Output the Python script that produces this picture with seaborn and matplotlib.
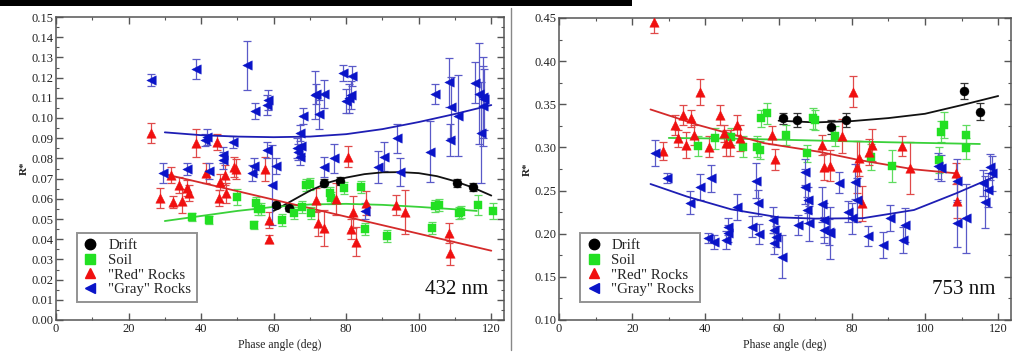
import numpy as np
import pandas as pd
import matplotlib
matplotlib.use("Agg")
import matplotlib.pyplot as plt
from matplotlib.lines import Line2D
from matplotlib.patches import Rectangle
from matplotlib.ticker import MultipleLocator, FormatStrFormatter
import seaborn as sns

# ---------------- data (phase angle in deg, R*) ----------------
# 432 nm panel
DRIFT_432_DEG = [60.7, 64.2, 74.0, 78.4, 110.5, 114.9]
DRIFT_432_R = [0.0569, 0.0553, 0.0677, 0.0690, 0.0677, 0.0657]
DRIFT_432_ERR = [0.0015, 0.0015, 0.002, 0.002, 0.002, 0.002]

SOIL_432_DEG = [37.5, 42.2, 49.9, 54.5, 55.0, 55.7, 56.6, 62.3, 65.5, 67.9, 69.0, 69.9, 70.4,
                75.4, 75.9, 79.5, 84.1, 85.1, 91.2, 103.7, 104.6, 105.5, 111.0, 111.7, 116.2, 120.6]
SOIL_432_R = [0.0508, 0.0495, 0.0607, 0.0470, 0.0581, 0.0550, 0.0550, 0.0495, 0.0528, 0.0561, 0.0668,
              0.0673, 0.0531, 0.0627, 0.0602, 0.0652, 0.0660, 0.0449, 0.0416, 0.0454, 0.0564, 0.0569,
              0.0531, 0.0536, 0.0569, 0.0541]
SOIL_432_ERR = [0.002, 0.002, 0.004, 0.002, 0.003, 0.003, 0.003, 0.003, 0.003, 0.003, 0.003, 0.003, 0.003,
                0.003, 0.003, 0.003, 0.003, 0.003, 0.003, 0.003, 0.003, 0.003, 0.003, 0.003, 0.005, 0.004]

RED_432_DEG = [26.1, 28.6, 31.8, 32.3, 33.9, 34.6, 36.0, 36.7, 38.5, 41.3, 44.4, 45.0, 45.1, 46.7, 46.9,
               49.0, 49.5, 57.6, 58.7, 58.7, 71.8, 72.2, 74.0, 77.3, 80.5, 81.4, 81.8, 82.6, 85.5,
               93.8, 96.1, 108.4, 108.7]
RED_432_R = [0.0924, 0.0602, 0.0718, 0.0586, 0.0668, 0.0589, 0.0652, 0.0627, 0.0878, 0.0726, 0.0883,
             0.0602, 0.0682, 0.0718, 0.0627, 0.0759, 0.0748, 0.0748, 0.0495, 0.0401, 0.0594, 0.0478,
             0.0457, 0.0599, 0.0809, 0.0450, 0.0536, 0.0388, 0.0581, 0.0569, 0.0536, 0.0429, 0.0330]
RED_432_ERR = [0.005, 0.005, 0.004, 0.003, 0.004, 0.006, 0.004, 0.004, 0.007, 0.005, 0.004, 0.004, 0.004,
               0.005, 0.005, 0.005, 0.005, 0.006, 0.004, 0.002, 0.006, 0.006, 0.009, 0.008, 0.005, 0.005,
               0.008, 0.007, 0.006, 0.005, 0.011, 0.005, 0.006]

GRAY_432_DEG = [26.1, 29.5, 36.0, 38.5, 41.0, 41.5, 42.2, 45.9, 45.9, 48.8, 52.7, 54.1, 54.5, 54.8,
                58.3, 58.3, 58.4, 59.5, 60.7, 66.3, 66.6, 67.2, 67.4, 67.5, 68.0, 71.5, 71.6, 72.5,
                74.0, 74.0, 76.5, 79.1, 80.0, 80.9, 81.4, 81.7, 85.1, 88.7, 90.3, 94.0, 94.9, 103.0,
                104.6, 108.3, 108.6, 108.9, 110.9, 115.6, 116.7, 117.2, 117.6, 117.6, 118.1]
GRAY_432_R = [0.1190, 0.0729, 0.0748, 0.1244, 0.0890, 0.0907, 0.0738, 0.0817, 0.0790, 0.0883, 0.1260,
              0.0726, 0.0764, 0.1036, 0.1065, 0.0842, 0.1090, 0.0668, 0.0764, 0.0850, 0.0832, 0.0808,
              0.0927, 0.0860, 0.1010, 0.1114, 0.1119, 0.1018, 0.1119, 0.0759, 0.0800, 0.1221, 0.1086,
              0.1097, 0.1114, 0.1208, 0.0540, 0.0759, 0.0809, 0.0899, 0.0734, 0.0833, 0.1119, 0.1176,
              0.0891, 0.1053, 0.1011, 0.1175, 0.1119, 0.0927, 0.1102, 0.1059, 0.1093]
GRAY_432_ERR = [0.003, 0.005, 0.003, 0.005, 0.003, 0.004, 0.004, 0.004, 0.004, 0.003, 0.012, 0.004,
                0.004, 0.004, 0.005, 0.004, 0.005, 0.020, 0.004, 0.005, 0.004, 0.004, 0.004, 0.005,
                0.004, 0.012, 0.005, 0.007, 0.007, 0.005, 0.007, 0.004, 0.006, 0.007, 0.007, 0.005,
                0.004, 0.008, 0.007, 0.007, 0.007, 0.015, 0.005, 0.012, 0.008, 0.015, 0.020, 0.010,
                0.025, 0.025, 0.020, 0.020, 0.015]

# fitted curves as drawn in the 432 nm panel
FIT_DRIFT_432_DEG = [60, 65, 70, 75, 80, 85, 90, 95, 100, 105, 110, 115, 120]
FIT_DRIFT_432_R = [0.0540, 0.0590, 0.0640, 0.0680, 0.0705, 0.0722, 0.0731, 0.0732, 0.0727, 0.0712,
                   0.0687, 0.0655, 0.0616]
FIT_SOIL_432_DEG = [30, 40, 50, 60, 70, 80, 90, 100, 110, 116]
FIT_SOIL_432_R = [0.0490, 0.0515, 0.0540, 0.0560, 0.0572, 0.0575, 0.0570, 0.0560, 0.0548, 0.0540]
FIT_RED_432_DEG = [30, 120]
FIT_RED_432_R = [0.0722, 0.0343]
FIT_GRAY_432_DEG = [30, 40, 50, 60, 70, 80, 90, 100, 110, 120]
FIT_GRAY_432_R = [0.0929, 0.0915, 0.0908, 0.0905, 0.0908, 0.0920, 0.0945, 0.0980, 0.1020, 0.1064]

# 753 nm panel
DRIFT_753_DEG = [61.1, 65.0, 74.4, 78.3, 110.6, 115.0]
DRIFT_753_R = [0.3337, 0.3318, 0.3233, 0.3318, 0.3657, 0.3414]
DRIFT_753_ERR = [0.006, 0.008, 0.008, 0.008, 0.009, 0.010]

SOIL_753_DEG = [37.9, 42.5, 47.1, 50.3, 54.2, 54.8, 55.3, 56.7, 61.9, 67.7, 69.5, 70.0, 75.5, 85.2,
                91.1, 103.8, 104.4, 105.3, 111.3, 111.3]
SOIL_753_R = [0.3016, 0.3106, 0.3125, 0.3010, 0.3010, 0.2970, 0.3337, 0.3395, 0.3144, 0.2931, 0.3337,
              0.3318, 0.3132, 0.2893, 0.2785, 0.2852, 0.3183, 0.3260, 0.3144, 0.2990]
SOIL_753_ERR = [0.012, 0.012, 0.010, 0.012, 0.012, 0.010, 0.010, 0.012, 0.012, 0.010, 0.012, 0.012,
                0.012, 0.015, 0.018, 0.015, 0.012, 0.015, 0.012, 0.012]

RED_753_DEG = [26.0, 28.5, 31.7, 32.4, 33.8, 34.7, 36.1, 36.8, 38.6, 41.1, 44.1, 45.0, 45.7, 46.6,
               48.7, 49.4, 58.1, 59.0, 71.8, 72.3, 74.1, 77.3, 80.3, 81.5, 82.0, 82.7, 84.7, 85.6,
               93.7, 95.9, 108.5, 108.7]
RED_753_R = [0.4450, 0.2960, 0.3260, 0.3106, 0.3376, 0.3028, 0.3337, 0.3144, 0.3646, 0.3010, 0.3376,
             0.3163, 0.3048, 0.3048, 0.3260, 0.3106, 0.3144, 0.2862, 0.3028, 0.2770, 0.2788, 0.3132,
             0.3646, 0.2770, 0.2874, 0.2353, 0.2952, 0.3028, 0.3016, 0.2758, 0.2700, 0.2383]
RED_753_ERR = [0.012, 0.010, 0.012, 0.010, 0.012, 0.015, 0.010, 0.012, 0.015, 0.012, 0.012, 0.010,
               0.015, 0.015, 0.012, 0.015, 0.010, 0.012, 0.012, 0.015, 0.018, 0.020, 0.018, 0.030,
               0.020, 0.020, 0.015, 0.018, 0.012, 0.030, 0.012, 0.020]

GRAY_753_DEG = [26.1, 29.6, 35.9, 38.6, 40.6, 41.6, 42.3, 45.7, 46.2, 46.2, 48.7, 52.6, 53.9, 54.4,
                54.7, 58.5, 58.8, 59.2, 58.8, 60.8, 65.4, 67.3, 67.3, 68.0, 67.7, 68.2, 71.8, 72.3,
                72.3, 73.7, 74.1, 76.4, 79.0, 80.1, 81.0, 81.5, 84.5, 88.4, 90.4, 93.9, 94.6, 103.5,
                104.4, 108.7, 108.7, 111.1, 115.9, 116.3, 117.3, 117.7, 118.2]
GRAY_753_R = [0.2932, 0.2642, 0.2360, 0.2545, 0.1947, 0.2642, 0.1908, 0.1927, 0.2081, 0.2004, 0.2313,
              0.2081, 0.2615, 0.2353, 0.1997, 0.2159, 0.2043, 0.1966, 0.1889, 0.1734, 0.2101, 0.2718,
              0.2545, 0.2391, 0.2275, 0.2120, 0.2340, 0.2159, 0.2043, 0.2024, 0.2004, 0.2592, 0.2256,
              0.2178, 0.2603, 0.2391, 0.1973, 0.1869, 0.2178, 0.1927, 0.2101, 0.2785, 0.2758, 0.2615,
              0.2120, 0.2178, 0.2584, 0.2372, 0.2507, 0.2777, 0.2700]
GRAY_753_ERR = [0.015, 0.006, 0.013, 0.015, 0.006, 0.016, 0.008, 0.010, 0.010, 0.010, 0.015, 0.012,
                0.020, 0.015, 0.012, 0.015, 0.015, 0.012, 0.012, 0.025, 0.012, 0.015, 0.020, 0.015,
                0.015, 0.020, 0.020, 0.020, 0.015, 0.015, 0.030, 0.012, 0.012, 0.018, 0.020, 0.025,
                0.012, 0.015, 0.015, 0.015, 0.020, 0.015, 0.015, 0.025, 0.027, 0.040, 0.015, 0.030,
                0.020, 0.015, 0.020]

FIT_DRIFT_753_DEG = [60, 70, 80, 90, 100, 110, 120]
FIT_DRIFT_753_R = [0.331, 0.329, 0.3305, 0.334, 0.339, 0.349, 0.3596]
FIT_SOIL_753_DEG = [30, 50, 70, 90, 115]
FIT_SOIL_753_R = [0.311, 0.310, 0.308, 0.306, 0.304]
FIT_RED_753_DEG = [25, 38, 56, 71, 82, 97, 108.5]
FIT_RED_753_R = [0.344, 0.326, 0.305, 0.295, 0.2854, 0.2746, 0.270]
FIT_GRAY_753_DEG = [25, 35, 47, 60, 70, 83, 97, 108.5, 119]
FIT_GRAY_753_R = [0.2576, 0.243, 0.2283, 0.219, 0.2175, 0.218, 0.2275, 0.2468, 0.266]

LABELS = ["Drift", "Soil", '"Red" Rocks', '"Gray" Rocks']

# ---------------- style ----------------
sns.set_theme(style="ticks")
plt.rcParams["font.family"] = ["Liberation Serif", "DejaVu Serif"]

MARK = {"Drift": "o", "Soil": "s", '"Red" Rocks': "^", '"Gray" Rocks': "<"}
FACE = {"Drift": "#000000", "Soil": "#22e022", '"Red" Rocks': "#f01010", '"Gray" Rocks': "#0a14c8"}
BAR = {"Drift": "#333333", "Soil": "#5fdc5f", '"Red" Rocks': "#e04a4a", '"Gray" Rocks': "#5a5ac8"}
FITC = {"Drift": "#111111", "Soil": "#3ad13a", '"Red" Rocks': "#d42a2a", '"Gray" Rocks': "#1e1eb4"}
SIZE = {"Drift": 42, "Soil": 36, '"Red" Rocks': 46, '"Gray" Rocks': 46}


def draw_panel(ax, series, fits, ylim, major, minor, label_text):
    for name, (deg, r, err) in zip(LABELS, series):
        ax.errorbar(deg, r, yerr=err, fmt="none", ecolor=BAR[name], elinewidth=0.9,
                    capsize=2.6, capthick=0.9, zorder=2)
    for name, (deg, r) in zip(LABELS, fits):
        sns.lineplot(x=deg, y=r, ax=ax, color=FITC[name], linewidth=1.3, sort=False, zorder=3)
    for name, (deg, r, err) in zip(LABELS, series):
        sns.scatterplot(x=deg, y=r, ax=ax, marker=MARK[name], s=SIZE[name], color=FACE[name],
                        edgecolor=FACE[name], linewidth=0.3, zorder=4)

    ax.set_xlim(0, 123.5)
    ax.set_ylim(*ylim)
    ax.xaxis.set_major_locator(MultipleLocator(20))
    ax.xaxis.set_minor_locator(MultipleLocator(10))
    ax.yaxis.set_major_locator(MultipleLocator(major))
    ax.yaxis.set_minor_locator(MultipleLocator(minor))
    ax.yaxis.set_major_formatter(FormatStrFormatter("%.2f"))
    ax.tick_params(which="both", direction="in", top=True, right=True, labelsize=9,
                   colors="#555555", labelcolor="#222222", pad=2)
    ax.tick_params(which="major", length=5, width=1)
    ax.tick_params(which="minor", length=2.5, width=0.8)
    for sp in ax.spines.values():
        sp.set_color("#555555")
        sp.set_linewidth(1.1)
    ax.set_xlabel("Phase angle (deg)", fontsize=8.5, labelpad=3, color="#222222")
    ax.set_ylabel("R*", fontsize=8, labelpad=2, color="#222222", fontweight="bold")

    handles = [Line2D([], [], linestyle="none", marker=MARK[n], color=FACE[n],
                      markersize=7.5 if n != "Soil" else 6.5) for n in LABELS]
    leg = ax.legend(handles, LABELS, loc="lower left", bbox_to_anchor=(0.047, 0.059),
                    borderaxespad=0, fontsize=10.7, frameon=True, fancybox=False,
                    handlelength=1.0, handletextpad=0.7, labelspacing=0.08, borderpad=0.4)
    leg.get_frame().set_edgecolor("#777777")
    leg.get_frame().set_linewidth(1.4)
    ax.text(0.965, 0.07, label_text, transform=ax.transAxes, ha="right", va="bottom",
            fontsize=15, color="#111111")


fig = plt.figure(figsize=(10.21, 3.6), dpi=100)
fig.patch.set_facecolor("white")
ax1 = fig.add_axes([56 / 1021, 40 / 360, 448 / 1021, 303 / 360])
ax2 = fig.add_axes([559 / 1021, 40 / 360, 452 / 1021, 302 / 360])

draw_panel(ax1,
           [(DRIFT_432_DEG, DRIFT_432_R, DRIFT_432_ERR), (SOIL_432_DEG, SOIL_432_R, SOIL_432_ERR),
            (RED_432_DEG, RED_432_R, RED_432_ERR), (GRAY_432_DEG, GRAY_432_R, GRAY_432_ERR)],
           [(FIT_DRIFT_432_DEG, FIT_DRIFT_432_R), (FIT_SOIL_432_DEG, FIT_SOIL_432_R),
            (FIT_RED_432_DEG, FIT_RED_432_R), (FIT_GRAY_432_DEG, FIT_GRAY_432_R)],
           (0.0, 0.15), 0.01, 0.005, "432 nm")
draw_panel(ax2,
           [(DRIFT_753_DEG, DRIFT_753_R, DRIFT_753_ERR), (SOIL_753_DEG, SOIL_753_R, SOIL_753_ERR),
            (RED_753_DEG, RED_753_R, RED_753_ERR), (GRAY_753_DEG, GRAY_753_R, GRAY_753_ERR)],
           [(FIT_DRIFT_753_DEG, FIT_DRIFT_753_R), (FIT_SOIL_753_DEG, FIT_SOIL_753_R),
            (FIT_RED_753_DEG, FIT_RED_753_R), (FIT_GRAY_753_DEG, FIT_GRAY_753_R)],
           (0.10, 0.45), 0.05, 0.025, "753 nm")

# dark strip along the top edge of the scanned figure
fig.patches.append(Rectangle((0, 354 / 360), 632 / 1021, 6 / 360, transform=fig.transFigure,
                             facecolor="black", edgecolor="none", zorder=10))
fig.lines.append(Line2D([511 / 1021, 511 / 1021], [10 / 360, 352 / 360], transform=fig.transFigure,
                        color="#888888", linewidth=1.0))

fig.savefig("out.png", dpi=100)
